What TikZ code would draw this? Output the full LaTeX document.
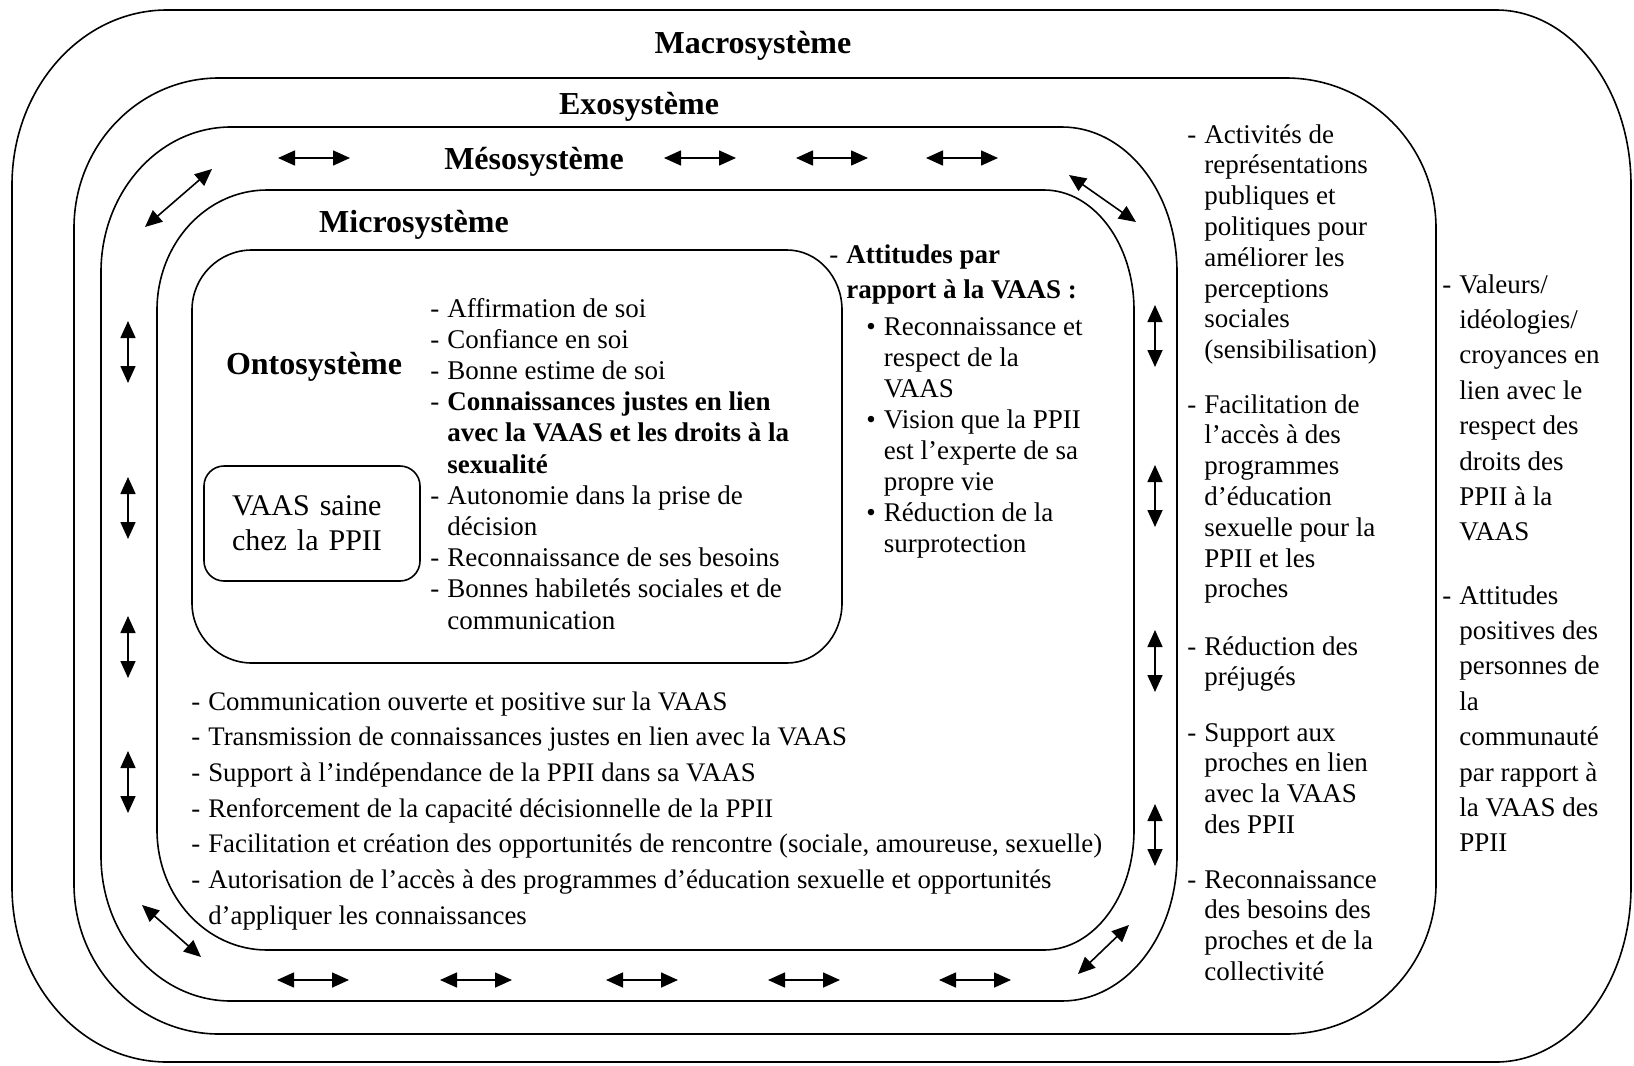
\documentclass[tikz,border=0pt]{standalone}
\usepackage{fontspec}
\setmainfont{Liberation Serif}
\usetikzlibrary{arrows.meta,positioning}

% one ring of the model: x1,y1,x2,y2, left rx, right rx, ry
\newcommand{\sysring}[7]{%
  \draw[sysline] (#1+#5,#2) -- (#3-#6,#2)
    arc[start angle=-90,end angle=0,x radius=#6,y radius=#7] -- (#3,#4-#7)
    arc[start angle=0,end angle=90,x radius=#6,y radius=#7] -- (#1+#5,#4)
    arc[start angle=90,end angle=180,x radius=#5,y radius=#7] -- (#1,#2+#7)
    arc[start angle=180,end angle=270,x radius=#5,y radius=#7] -- cycle;}

% marker column + text column
\newcommand{\itemcol}[1]{\begin{tabular}[t]{@{}l@{\hspace{4pt}}l@{}}#1\end{tabular}}

\begin{document}
\begin{tikzpicture}[x=0.5pt,y=-0.5pt,
    sysline/.style={line width=0.8pt},
    systitle/.style={anchor=base,font=\fontsize{16}{19}\selectfont\bfseries},
    listblock/.style={anchor=base west,inner sep=0pt},
    biarrow/.style={{Triangle[length=8.5pt,width=7.5pt]}-{Triangle[length=8.5pt,width=7.5pt]},line width=0.8pt},
    vaasbox/.style={draw,line width=0.8pt,rounded corners=10pt,align=left,
      text width=80pt,inner xsep=14pt,minimum height=57.5pt,
      font=\fontsize{15}{17.5}\selectfont}]

  \useasboundingbox (0,0) rectangle (1634,1066);

  % rings
  \sysring{12}{10}{1631}{1062}{155}{135}{175}
  \sysring{74}{78}{1436}{1034}{145}{150}{150}
  \sysring{101}{127}{1177}{1001}{130}{115}{145}
  \sysring{157}{190}{1134}{950}{110}{90}{120}
  \sysring{192}{250}{842}{663}{60}{55}{60}

  % titles
  \node[systitle] (macTitle) at (753,53) {Macrosystème};
  \node[systitle] (exoTitle) at (639,114) {Exosystème};
  \node[systitle] (mesoTitle) at (534,169) {Mésosystème};
  \node[systitle] (microTitle) at (414,232) {Microsystème};
  \node[systitle] (ontoTitle) at (314,374) {Ontosystème};

  \node[vaasbox] (vaas) at (312,523.5) {VAAS saine\\chez la PPII};

  % ontosystem
  \node[listblock,font=\fontsize{13.5}{15.6}\selectfont] (ontoList) at (430,317) {\itemcol{
    -&Affirmation de soi\\
    -&Confiance en soi\\
    -&Bonne estime de soi\\
    -&\textbf{Connaissances justes en lien}\\
     &\textbf{avec la VAAS et les droits à la}\\
     &\textbf{sexualité}\\
    -&Autonomie dans la prise de\\
     &décision\\
    -&Reconnaissance de ses besoins\\
    -&Bonnes habiletés sociales et de\\
     &communication}};

  % microsystem
  \node[listblock,font=\fontsize{13.5}{17.5}\selectfont] (attHead) at (829,263) {\itemcol{
    -&\textbf{Attitudes par}\\
     &\textbf{rapport à la VAAS :}}};
  \node[listblock,font=\fontsize{13.5}{15.55}\selectfont] (attList) at (866,335) {\itemcol{
    \textbullet&Reconnaissance et\\
     &respect de la\\
     &VAAS\\
    \textbullet&Vision que la PPII\\
     &est l’experte de sa\\
     &propre vie\\
    \textbullet&Réduction de la\\
     &surprotection}};
  \node[listblock,font=\fontsize{13.4}{17.85}\selectfont] (microList) at (191,710) {\itemcol{
    -&Communication ouverte et positive sur la VAAS\\
    -&Transmission de connaissances justes en lien avec la VAAS\\
    -&Support à l’indépendance de la PPII dans sa VAAS\\
    -&Renforcement de la capacité décisionnelle de la PPII\\
    -&Facilitation et création des opportunités de rencontre (sociale, amoureuse, sexuelle)\\
    -&Autorisation de l’accès à des programmes d’éducation sexuelle et opportunités\\
     &d’appliquer les connaissances}};

  % exosystem
  \begin{scope}[every node/.style={listblock,font=\fontsize{13.5}{15.4}\selectfont}]
    \node (exoA) at (1187,143) {\itemcol{-&Activités de\\ &représentations\\ &publiques et\\
      &politiques pour\\ &améliorer les\\ &perceptions\\ &sociales\\ &(sensibilisation)}};
    \node (exoB) at (1187,413) {\itemcol{-&Facilitation de\\ &l’accès à des\\ &programmes\\
      &d’éducation\\ &sexuelle pour la\\ &PPII et les\\ &proches}};
    \node (exoC) at (1187,655) {\itemcol{-&Réduction des\\ &préjugés}};
    \node (exoD) at (1187,741) {\itemcol{-&Support aux\\ &proches en lien\\ &avec la VAAS\\ &des PPII}};
    \node (exoE) at (1187,888) {\itemcol{-&Reconnaissance\\ &des besoins des\\ &proches et de la\\ &collectivité}};
  \end{scope}

  % macrosystem
  \begin{scope}[every node/.style={listblock,font=\fontsize{13.5}{17.7}\selectfont}]
    \node (macA) at (1442,293) {\itemcol{-&Valeurs/\\ &idéologies/\\ &croyances en\\ &lien avec le\\
      &respect des\\ &droits des\\ &PPII à la\\ &VAAS}};
    \node (macB) at (1442,604) {\itemcol{-&Attitudes\\ &positives des\\ &personnes de\\ &la\\
      &communauté\\ &par rapport à\\ &la VAAS des\\ &PPII}};
  \end{scope}

  % mesosystem exchanges
  \foreach \x in {314,700,832,962} {
    \coordinate (top\x) at (\x,158);
    \draw[biarrow] ([xshift=-18pt]top\x) -- ([xshift=18pt]top\x);
  }
  \foreach \x in {313,476,642,804,975} {
    \coordinate (bot\x) at (\x,980);
    \draw[biarrow] ([xshift=-18pt]bot\x) -- ([xshift=18pt]bot\x);
  }
  \foreach \y in {352,508,647,782} {
    \coordinate (lft\y) at (128,\y);
    \draw[biarrow] ([yshift=15.5pt]lft\y) -- ([yshift=-15.5pt]lft\y);
  }
  \foreach \y in {336,496,661,835} {
    \coordinate (rgt\y) at (1155,\y);
    \draw[biarrow] ([yshift=15.5pt]rgt\y) -- ([yshift=-15.5pt]rgt\y);
  }
  \coordinate (tlA) at (145,227);  \coordinate (tlB) at (212,169);
  \coordinate (trA) at (1069,175); \coordinate (trB) at (1136,222);
  \coordinate (blA) at (142,905);  \coordinate (blB) at (201,957);
  \coordinate (brA) at (1078,974); \coordinate (brB) at (1129,925);
  \draw[biarrow] (tlA) -- (tlB);
  \draw[biarrow] (trA) -- (trB);
  \draw[biarrow] (blA) -- (blB);
  \draw[biarrow] (brA) -- (brB);

\end{tikzpicture}
\end{document}
